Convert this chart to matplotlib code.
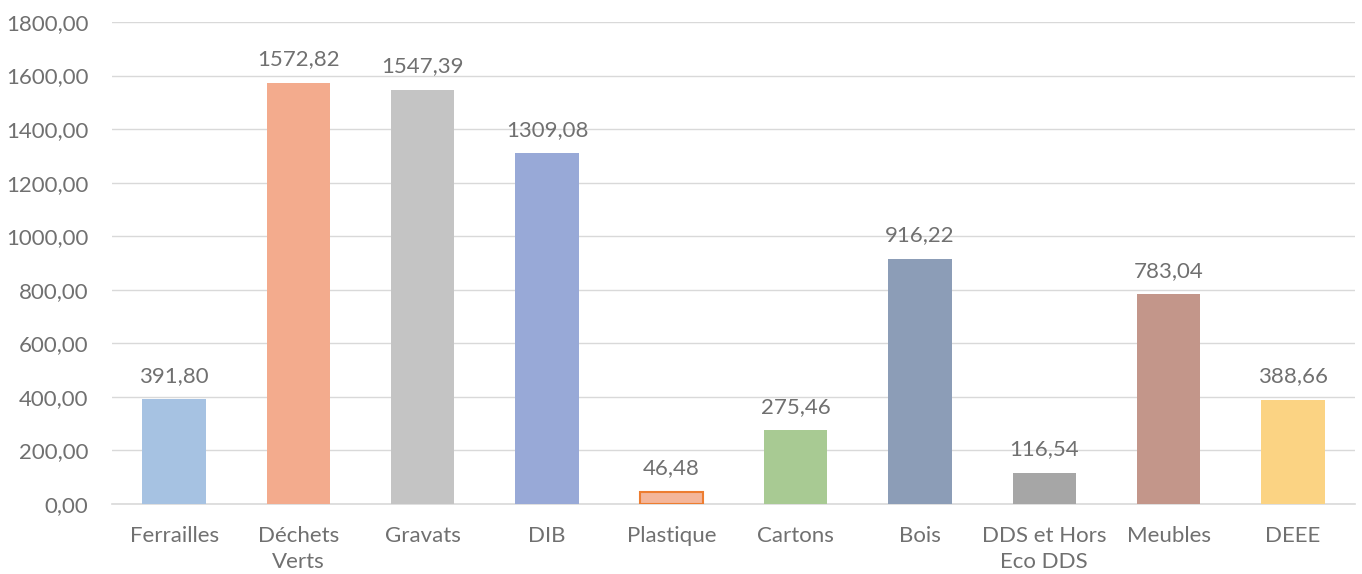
import numpy as np
import matplotlib
matplotlib.use("Agg")
import matplotlib.pyplot as plt

categories = ["Ferrailles", "Déchets\nVerts", "Gravats", "DIB", "Plastique",
              "Cartons", "Bois", "DDS et Hors\nEco DDS", "Meubles", "DEEE"]
values = [391.80, 1572.82, 1547.39, 1309.08, 46.48,
          275.46, 916.22, 116.54, 783.04, 388.66]
colors = ["#A6C2E2", "#F3AB8D", "#C4C4C4", "#98A9D7", "#F4B69A",
          "#A8CA93", "#8C9DB7", "#A6A6A6", "#C3968A", "#FBD383"]
edges = ["none"] * 10
edges[4] = "#ED7D31"

plt.rcParams['font.family'] = ['Lato', 'DejaVu Sans']
txt = "#707070"

fig = plt.figure(figsize=(13.62, 5.74), dpi=100)
ax = fig.add_axes([112/1362, 1 - 504/574, 1243/1362, 482/574])

x = np.arange(len(categories))
bars = ax.bar(x, values, width=0.51, color=colors, zorder=3)
for b, e in zip(bars, edges):
    if e != "none":
        b.set_edgecolor(e)
        b.set_linewidth(1.5)

for xi, v in zip(x, values):
    ax.text(xi, v + 50, f"{v:.2f}".replace(".", ","), ha="center", va="bottom",
            fontsize=16, color=txt)

ax.set_ylim(0, 1800)
ax.set_xlim(-0.5, len(categories) - 0.5)
ax.set_yticks(np.arange(0, 1801, 200))
ax.set_yticklabels([f"{t:.2f}".replace(".", ",") for t in np.arange(0, 1801, 200)])
ax.set_xticks(x)
ax.set_xticklabels(categories, linespacing=1.35)
ax.tick_params(axis="both", length=0, labelsize=16, labelcolor=txt)
ax.tick_params(axis="x", pad=16)
ax.tick_params(axis="y", pad=17)
ax.grid(axis="y", color="#D9D9D9", linewidth=1, zorder=0)
for s in ["top", "right", "left"]:
    ax.spines[s].set_visible(False)
ax.spines["bottom"].set_color("#D9D9D9")
ax.spines["bottom"].set_linewidth(1.2)

fig.savefig("out.png", dpi=100)
